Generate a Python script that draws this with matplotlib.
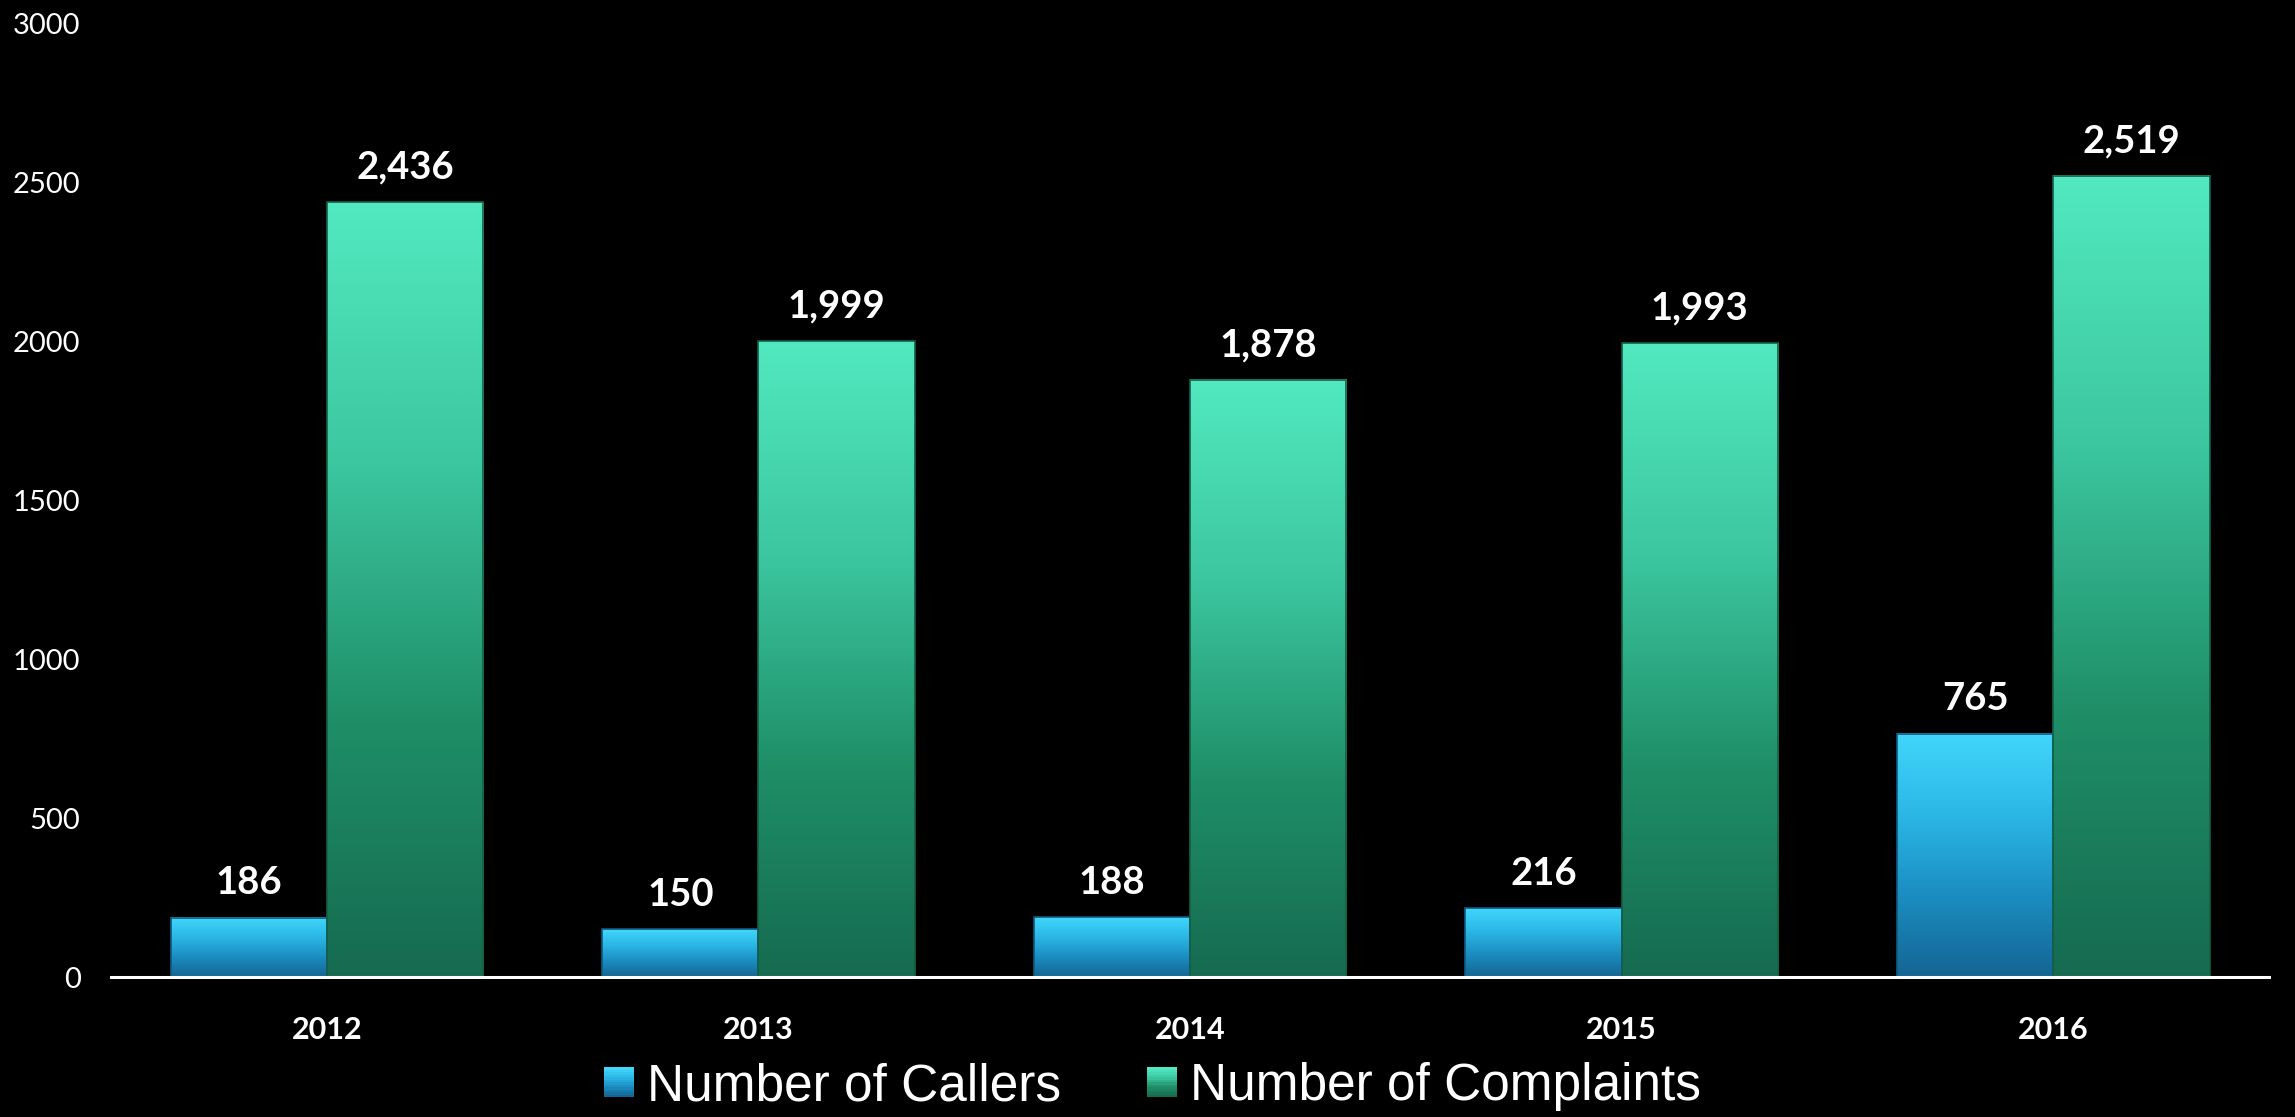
import numpy as np
import matplotlib
matplotlib.use("Agg")
import matplotlib.pyplot as plt
from matplotlib.colors import LinearSegmentedColormap
from matplotlib.patches import Rectangle
from matplotlib.legend_handler import HandlerBase

years = ["2012", "2013", "2014", "2015", "2016"]
callers = [186, 150, 188, 216, 765]
complaints = [2436, 1999, 1878, 1993, 2519]
series_names = ["Number of Callers", "Number of Complaints"]
yticks = [0, 500, 1000, 1500, 2000, 2500, 3000]

caller_cmap = LinearSegmentedColormap.from_list(
    "callers", ["#146593", "#1b8dc0", "#2bb7e6", "#42d6fa"])
complaint_cmap = LinearSegmentedColormap.from_list(
    "complaints", ["#166b50", "#1f8f68", "#3cc7a0", "#52e9c0"])

fig = plt.figure(figsize=(22.95, 11.17), dpi=100, facecolor="black")
ax = fig.add_axes([0.0484, 0.1253, 0.9403, 0.8541])
ax.set_facecolor("black")

x = np.arange(len(years))
w = 0.362
grad = np.linspace(0, 1, 256).reshape(-1, 1)

def gradient_bars(xs, vals, cmap, edge):
    bars = ax.bar(xs, vals, width=w, color="none", edgecolor=edge,
                  linewidth=1.2, zorder=3)
    for b in bars:
        x0, y0 = b.get_x(), b.get_y()
        ax.imshow(grad, cmap=cmap, origin="lower", aspect="auto",
                  extent=[x0, x0 + b.get_width(), y0, y0 + b.get_height()],
                  zorder=2, interpolation="bicubic")
    return bars

b1 = gradient_bars(x - w / 2, callers, caller_cmap, "#0f5a80")
b2 = gradient_bars(x + w / 2, complaints, complaint_cmap, "#136048")

for bars, vals in ((b1, callers), (b2, complaints)):
    for b, v in zip(bars, vals):
        ax.annotate(f"{v:,}", (b.get_x() + b.get_width() / 2, b.get_height()),
                    xytext=(0, 17), textcoords="offset points",
                    ha="center", va="baseline", color="white",
                    fontsize=27.5, fontfamily="Lato", fontweight="bold",
                    zorder=5)

ax.set_xlim(-0.5, len(years) - 0.5)
ax.set_ylim(0, 3000)
ax.set_yticks(yticks)
ax.set_yticklabels([str(t) for t in yticks], fontsize=21, fontfamily="Lato",
                   fontweight="normal", color="white")
ax.set_xticks(x)
ax.set_xticklabels(years, fontsize=22, fontfamily="Lato", color="white",
                   fontweight="bold")
ax.tick_params(axis="y", length=0, pad=22)
ax.tick_params(axis="x", length=0, pad=28)
for s in ["left", "right", "top"]:
    ax.spines[s].set_visible(False)
ax.spines["bottom"].set_color("white")
ax.spines["bottom"].set_linewidth(2.2)
ax.spines["bottom"].set_zorder(6)


class GradientHandler(HandlerBase):
    def __init__(self, cmap):
        super().__init__()
        self.cmap = cmap

    def create_artists(self, legend, orig_handle, xdescent, ydescent,
                       width, height, fontsize, trans):
        arts = []
        n = 12
        side = height
        x0 = -xdescent + (width - side) / 2
        y0 = -ydescent
        for i in range(n):
            c = self.cmap(i / (n - 1))
            r = Rectangle((x0, y0 + side * i / n), side, side / n + 0.3,
                          facecolor=c, edgecolor="none", transform=trans)
            arts.append(r)
        return arts


h1 = Rectangle((0, 0), 1, 1)
h2 = Rectangle((0, 0), 1, 1)
leg = fig.legend([h1, h2], series_names, loc="center",
                 bbox_to_anchor=(0.5025, 0.027), ncol=2, frameon=False,
                 prop={"family": "Liberation Sans", "size": 37},
                 labelcolor="white", handlelength=0.52, handleheight=0.52,
                 handletextpad=0.28, columnspacing=1.7,
                 handler_map={h1: GradientHandler(caller_cmap),
                              h2: GradientHandler(complaint_cmap)})

fig.savefig("out.png", dpi=100, facecolor="black")
